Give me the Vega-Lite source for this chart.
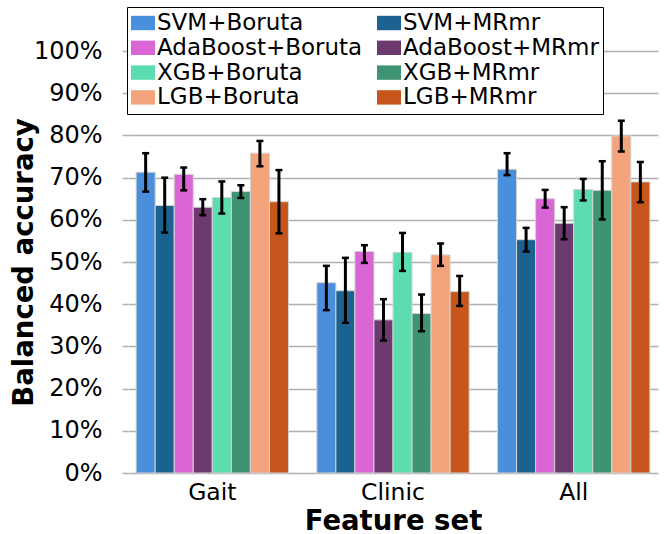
{
  "$schema": "https://vega.github.io/schema/vega-lite/v6.json",
  "width": 530,
  "height": 443,
  "autosize": "none",
  "padding": {"left": 128, "top": 30, "right": 10, "bottom": 61},
  "config": {
    "font": "DejaVu Sans",
    "view": {"stroke": null},
    "axis": {"labelColor": "black", "titleColor": "black"}
  },
  "data": {
    "values": [
      {"set": "Gait", "method": "SVM+Boruta", "value": 0.713, "lo": 0.667, "hi": 0.758},
      {"set": "Gait", "method": "SVM+MRmr", "value": 0.634, "lo": 0.570, "hi": 0.700},
      {"set": "Gait", "method": "AdaBoost+Boruta", "value": 0.708, "lo": 0.670, "hi": 0.724},
      {"set": "Gait", "method": "AdaBoost+MRmr", "value": 0.630, "lo": 0.611, "hi": 0.649},
      {"set": "Gait", "method": "XGB+Boruta", "value": 0.653, "lo": 0.615, "hi": 0.691},
      {"set": "Gait", "method": "XGB+MRmr", "value": 0.667, "lo": 0.652, "hi": 0.682},
      {"set": "Gait", "method": "LGB+Boruta", "value": 0.758, "lo": 0.727, "hi": 0.787},
      {"set": "Gait", "method": "LGB+MRmr", "value": 0.643, "lo": 0.568, "hi": 0.718},
      {"set": "Clinic", "method": "SVM+Boruta", "value": 0.451, "lo": 0.386, "hi": 0.491},
      {"set": "Clinic", "method": "SVM+MRmr", "value": 0.432, "lo": 0.356, "hi": 0.510},
      {"set": "Clinic", "method": "AdaBoost+Boruta", "value": 0.525, "lo": 0.498, "hi": 0.540},
      {"set": "Clinic", "method": "AdaBoost+MRmr", "value": 0.363, "lo": 0.314, "hi": 0.412},
      {"set": "Clinic", "method": "XGB+Boruta", "value": 0.523, "lo": 0.479, "hi": 0.569},
      {"set": "Clinic", "method": "XGB+MRmr", "value": 0.378, "lo": 0.336, "hi": 0.423},
      {"set": "Clinic", "method": "LGB+Boruta", "value": 0.517, "lo": 0.491, "hi": 0.544},
      {"set": "Clinic", "method": "LGB+MRmr", "value": 0.430, "lo": 0.396, "hi": 0.467},
      {"set": "All", "method": "SVM+Boruta", "value": 0.720, "lo": 0.706, "hi": 0.758},
      {"set": "All", "method": "SVM+MRmr", "value": 0.553, "lo": 0.525, "hi": 0.581},
      {"set": "All", "method": "AdaBoost+Boruta", "value": 0.650, "lo": 0.629, "hi": 0.671},
      {"set": "All", "method": "AdaBoost+MRmr", "value": 0.592, "lo": 0.554, "hi": 0.630},
      {"set": "All", "method": "XGB+Boruta", "value": 0.672, "lo": 0.646, "hi": 0.697},
      {"set": "All", "method": "XGB+MRmr", "value": 0.670, "lo": 0.601, "hi": 0.739},
      {"set": "All", "method": "LGB+Boruta", "value": 0.799, "lo": 0.762, "hi": 0.835},
      {"set": "All", "method": "LGB+MRmr", "value": 0.690, "lo": 0.642, "hi": 0.737}
    ]
  },
  "encoding": {
    "x": {
      "field": "set",
      "type": "nominal",
      "sort": ["Gait", "Clinic", "All"],
      "scale": {"paddingInner": 0.157, "paddingOuter": 0.045},
      "axis": {
        "title": "Feature set",
        "labelAngle": 0,
        "labelFontSize": 23.5,
        "ticks": false,
        "domain": false,
        "labelPadding": 7,
        "titleFontSize": 27.5,
        "titleFontWeight": "bold",
        "titlePadding": 4
      }
    },
    "xOffset": {
      "field": "method",
      "type": "nominal",
      "sort": ["SVM+Boruta", "SVM+MRmr", "AdaBoost+Boruta", "AdaBoost+MRmr", "XGB+Boruta", "XGB+MRmr", "LGB+Boruta", "LGB+MRmr"],
      "scale": {"paddingInner": 0, "paddingOuter": 0}
    }
  },
  "layer": [
    {
      "mark": {"type": "bar", "stroke": "#d4d4d4", "strokeWidth": 1},
      "encoding": {
        "y": {
          "field": "value",
          "type": "quantitative",
          "scale": {"domain": [0, 1.05], "nice": false},
          "axis": {
            "title": "Balanced accuracy",
            "values": [0, 0.1, 0.2, 0.3, 0.4, 0.5, 0.6, 0.7, 0.8, 0.9, 1.0],
            "format": ".0%",
            "labelFontSize": 24,
            "labelPadding": 20,
            "tickSize": 6,
            "tickColor": "#b0b0b0",
            "tickWidth": 1.5,
            "domain": false,
            "grid": true,
            "gridColor": "#b0b0b0",
            "gridWidth": 1.5,
            "titleFontSize": 27.5,
            "titleFontWeight": "bold",
            "titleX": -90,
            "titleY": 232
          }
        },
        "color": {
          "field": "method",
          "type": "nominal",
          "sort": ["SVM+Boruta", "SVM+MRmr", "AdaBoost+Boruta", "AdaBoost+MRmr", "XGB+Boruta", "XGB+MRmr", "LGB+Boruta", "LGB+MRmr"],
          "scale": {
            "domain": ["SVM+Boruta", "SVM+MRmr", "AdaBoost+Boruta", "AdaBoost+MRmr", "XGB+Boruta", "XGB+MRmr", "LGB+Boruta", "LGB+MRmr"],
            "range": ["#4a8fdb", "#1b6290", "#da66d6", "#6c3a6f", "#5ddcb0", "#3e9373", "#f4a47c", "#c6561b"]
          },
          "legend": {
            "title": null,
            "orient": "none",
            "legendX": -1,
            "legendY": -23,
            "columns": 2,
            "direction": "horizontal",
            "labelFontSize": 23,
            "labelLimit": 400,
            "labelOffset": 2,
            "columnPadding": 14,
            "rowPadding": 0.8,
            "padding": 4,
            "strokeColor": "black",
            "fillColor": "white",
            "symbolType": "M-1,-0.6H1V0.6H-1Z",
            "symbolSize": 576,
            "symbolOpacity": 1,
            "symbolStrokeWidth": 0
          }
        }
      }
    },
    {
      "mark": {"type": "rule", "color": "black", "strokeWidth": 3},
      "encoding": {
        "y": {"field": "lo", "type": "quantitative"},
        "y2": {"field": "hi"}
      }
    },
    {
      "mark": {"type": "tick", "color": "black", "size": 7, "thickness": 2.5, "opacity": 1},
      "encoding": {"y": {"field": "lo", "type": "quantitative"}}
    },
    {
      "mark": {"type": "tick", "color": "black", "size": 7, "thickness": 2.5, "opacity": 1},
      "encoding": {"y": {"field": "hi", "type": "quantitative"}}
    }
  ]
}
